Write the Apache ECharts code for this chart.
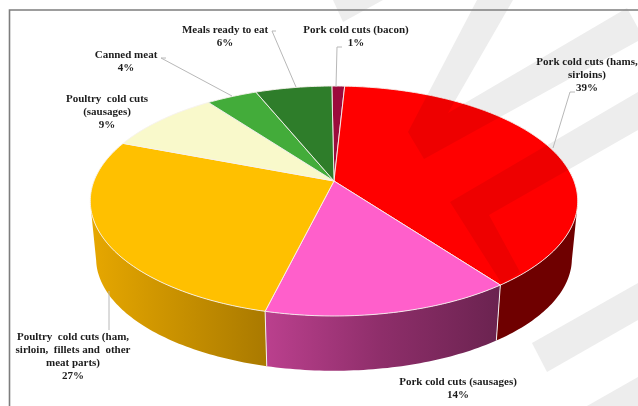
<!DOCTYPE html>
<html>
<head>
<meta charset="utf-8">
<style>html,body{margin:0;padding:0;background:#fff}#chart{width:638px;height:406px}</style>
<script src="https://cdn.jsdelivr.net/npm/echarts@6/dist/echarts.min.js"></script>
</head>
<body>
<div id="chart"></div>
<script>
// Share of each meat product category, clockwise from twelve o'clock
const categories = [
  'Pork cold cuts (bacon)',
  'Pork cold cuts (hams, sirloins)',
  'Pork cold cuts (sausages)',
  'Poultry cold cuts (ham, sirloin, fillets and other meat parts)',
  'Poultry cold cuts (sausages)',
  'Canned meat',
  'Meals ready to eat'
];
const shares = [1, 39, 14, 27, 9, 4, 6];
const topColors = ['#9c0a3c', '#ff0000', '#ff5fcb', '#ffc000', '#f9f9cb', '#43ac3a', '#2e7d2a'];

// Wrapped label text for each category
const labelLines = [
  ['Pork cold cuts (bacon)'],
  ['Pork cold cuts (hams,', 'sirloins)'],
  ['Pork cold cuts (sausages)'],
  ['Poultry  cold cuts (ham,', 'sirloin,  fillets and  other', 'meat parts)'],
  ['Poultry  cold cuts', '(sausages)'],
  ['Canned meat'],
  ['Meals ready to eat']
];

// Label anchors (centre x, first line middle y) and leader polylines
const labelAnchors = [[356, 30], [587, 62], [458, 382], [73, 337], [107, 99], [126, 55], [225, 30]];
const leaders = [
  [[342, 47], [337, 47], [336, 87]],
  [[575, 92], [570, 92], [553, 148]],
  null,
  [[109, 291], [109, 330]],
  null,
  [[166, 58], [161, 58], [232, 96]],
  [[276, 31], [272, 31], [296, 87]]
];

// Backdrop stripes behind the disc
const stripes = [
  [[333, 0], [383, 0], [343, 22]],
  [[477, 0], [513, 0], [448, 113], [627, 8], [638, 28], [638, 41], [424, 159], [408, 132]],
  [[638, 92], [450, 202], [502, 284], [520, 272], [489, 215], [638, 130]],
  [[532, 343], [547, 372], [638, 320], [638, 283]],
  [[587, 406], [638, 377], [638, 406]]
];

// Projection of the tilted disc: a circle seen in perspective
const apex = [334, 181];
const radiusX = 240, radiusY = 111.5, perspective = 0.174;
const bottomScale = 0.976, bottomDrop = 58;
const startAngle = -0.6;
// Angles where the wall silhouette leaves the rim on the right and on the left
const wallFrom = 101, wallTo = 259;

function rimPoint(deg, lower) {
  const a = deg * Math.PI / 180;
  const w = 1 + perspective * Math.cos(a);
  const s = lower ? bottomScale : 1;
  return [
    apex[0] + s * radiusX * Math.sin(a) / w,
    apex[1] + (lower ? bottomDrop : 0) - s * radiusY * Math.cos(a) / w
  ];
}
function arc(from, to, lower) {
  const pts = [];
  const n = Math.max(2, Math.ceil(Math.abs(to - from)));
  for (let i = 0; i <= n; i++) pts.push(rimPoint(from + (to - from) * i / n, lower));
  return pts;
}

// Start and end angle of every slice, taken from the shares
const total = shares.reduce((a, b) => a + b, 0);
const spans = [];
shares.reduce((acc, v) => {
  const next = acc + v;
  spans.push([startAngle + acc / total * 360, startAngle + next / total * 360]);
  return next;
}, 0);

const G = echarts.graphic.LinearGradient;
// Wall fill per slice; only the slices facing the viewer get one
const wallFills = {
  1: '#6f0000',
  2: new G(265, 0, 498, 0, [
    { offset: 0, color: '#bb408e' }, { offset: 0.5, color: '#8e2e6a' }, { offset: 1, color: '#6b2350' }
  ], true),
  3: new G(92, 0, 265, 0, [
    { offset: 0, color: '#e6a700' }, { offset: 1, color: '#aa7a00' }
  ], true)
};

function renderWall(params) {
  const i = params.dataIndex;
  const fill = wallFills[i];
  if (!fill) return { type: 'group', children: [] };
  // Keep only the part of the rim that faces the viewer
  const from = Math.max(spans[i][0], wallFrom);
  const to = Math.min(spans[i][1], wallTo);
  const pts = arc(from, to, false).concat(arc(to, from, true));
  const children = [{ type: 'polygon', shape: { points: pts }, style: { fill: fill } }];
  const d = spans[i][1];
  if (d > wallFrom && d < wallTo) {
    const p = rimPoint(d, false), q = rimPoint(d, true);
    children.push({ type: 'line', z2: 5,
      shape: { x1: p[0], y1: p[1], x2: q[0], y2: q[1] },
      style: { stroke: '#f4f0f0', lineWidth: 1 } });
  }
  return { type: 'group', children: children };
}

function renderTop(params) {
  const i = params.dataIndex;
  const pts = [apex].concat(arc(spans[i][0], spans[i][1], false));
  const children = [{ type: 'polygon', shape: { points: pts },
    style: { fill: topColors[i], stroke: '#f6f2ee', lineWidth: 0.9, lineJoin: 'round' } }];
  if (i === 1) {
    // Stripes also show faintly through the largest slice
    children.push({
      type: 'group',
      clipPath: { type: 'polygon', shape: { points: pts } },
      children: stripes.slice(1, 3).map(function (s) {
        return { type: 'polygon', shape: { points: s }, style: { fill: 'rgba(120,0,0,0.13)' } };
      })
    });
  }
  return { type: 'group', children: children };
}

const labelFont = 'bold 11px "Liberation Serif", serif';
const elements = [];
stripes.forEach(function (s) {
  elements.push({ type: 'polygon', z: 0, shape: { points: s }, style: { fill: '#ededed' }, silent: true });
});
elements.push({ type: 'polyline', z: 1, shape: { points: [[9.5, 406], [9.5, 10], [638, 10]] },
  style: { stroke: '#7d7d7d', lineWidth: 1.6, fill: null }, silent: true });
leaders.forEach(function (l) {
  if (l) elements.push({ type: 'polyline', z: 6, shape: { points: l },
    style: { stroke: '#b8b8b8', lineWidth: 1, fill: null }, silent: true });
});
categories.forEach(function (name, i) {
  const lines = labelLines[i].concat([shares[i] + '%']);
  lines.forEach(function (t, k) {
    elements.push({ type: 'text', z: 7, x: labelAnchors[i][0], y: labelAnchors[i][1] + k * 13,
      style: { text: t, font: labelFont, fill: '#1c1c1c', align: 'center', verticalAlign: 'middle' }, silent: true });
  });
});

const chart = echarts.init(document.getElementById('chart'), null, { renderer: 'canvas' });
chart.setOption({
  animation: false,
  backgroundColor: '#ffffff',
  graphic: { elements: elements },
  series: [
    { type: 'custom', coordinateSystem: 'none', z: 3, silent: true,
      data: categories.map((c, i) => ({ name: c, value: shares[i] })), renderItem: renderWall },
    { type: 'custom', coordinateSystem: 'none', z: 4, silent: true,
      data: categories.map((c, i) => ({ name: c, value: shares[i] })), renderItem: renderTop }
  ]
});
</script>
</body>
</html>
